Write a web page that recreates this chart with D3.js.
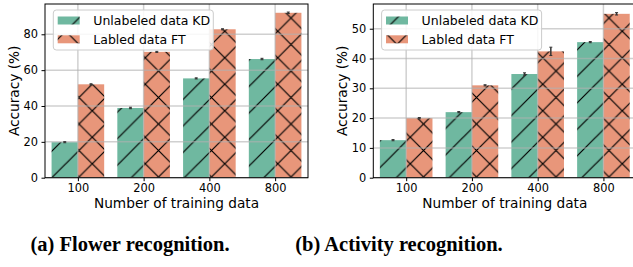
<!DOCTYPE html>
<html><head><meta charset="utf-8">
<script src="https://cdn.jsdelivr.net/npm/d3@7"></script>
<style>body{margin:0;background:#fff} svg{display:block}</style>
</head><body>
<script>
// ---- data ----
const categories = ["100", "200", "400", "800"];
const seriesNames = ["Unlabeled data KD", "Labled data FT"];
const flowerKD = [19.8, 38.9, 55.4, 66.2];
const flowerFT = [52.1, 70.2, 82.8, 92.0];
const flowerKDErr = [0.3, 0.4, 0.3, 0.4];
const flowerFTErr = [0.3, 0.3, 0.3, 0.4];
const activityKD = [12.6, 22.0, 34.8, 45.5];
const activityFT = [20.0, 31.0, 42.4, 55.0];
const activityKDErr = [0.2, 0.2, 0.4, 0.2];
const activityFTErr = [0.2, 0.2, 1.4, 0.4];
const flowerTicks = [0, 20, 40, 60, 80];
const activityTicks = [0, 10, 20, 30, 40, 50];
const captions = ["(a) Flower recognition.", "(b) Activity recognition."];
const xLabel = "Number of training data";
const yLabel = "Accuracy (%)";

// ---- style ----
const W = 633, H = 267;
const GREEN = "#6fb8a0", ORANGE = "#e8967a";
const FONT = "'DejaVu Sans', sans-serif";
const svg = d3.select("body").append("svg").attr("width", W).attr("height", H);

const D = 26.5;
const defs = svg.append("defs");
function makePattern(id, color, cross) {
  const p = defs.append("pattern").attr("id", id).attr("patternUnits", "userSpaceOnUse")
    .attr("width", D).attr("height", D).attr("patternTransform", "translate(12.75,4.75)");
  p.append("rect").attr("width", D).attr("height", D).attr("fill", color);
  let path = `M0,${D}L${D},0M-2,2L2,-2M${D-2},${D+2}L${D+2},${D-2}`;
  if (cross) path += `M0,0L${D},${D}M-2,${D-2}L2,${D+2}M${D-2},-2L${D+2},2`;
  p.append("path").attr("d", path).attr("stroke", "#000").attr("stroke-width", 1.2).attr("fill", "none");
}
makePattern("hG", GREEN, false);
makePattern("hO", ORANGE, true);

const panels = [
  {left: 45, right: 308, top: 4, bottom: 177.7, ymax: 96.9, kd: flowerKD, ft: flowerFT, kdE: flowerKDErr, ftE: flowerFTErr, ticks: flowerTicks, ylabX: 14, cap: captions[0], capX: 130},
  {left: 373.3, right: 636.3, top: 4, bottom: 177.7, ymax: 58.3, kd: activityKD, ft: activityFT, kdE: activityKDErr, ftE: activityFTErr, ticks: activityTicks, ylabX: 342, cap: captions[1], capX: 399}
];

panels.forEach(P => {
  const x = d3.scaleLinear().domain([-0.5, 3.5]).range([P.left, P.right]);
  const y = d3.scaleLinear().domain([0, P.ymax]).range([P.bottom, P.top]);
  const bw = x(0.4) - x(0);
  const g = svg.append("g");
  const series = [
    {vals: P.kd, err: P.kdE, off: -0.2, fill: "url(#hG)"},
    {vals: P.ft, err: P.ftE, off: 0.2, fill: "url(#hO)"}
  ];
  series.forEach(s => {
    g.selectAll(null).data(s.vals).enter().append("rect")
      .attr("x", (d, i) => x(i + s.off) - bw / 2).attr("width", bw)
      .attr("y", d => y(d)).attr("height", d => y(0) - y(d))
      .attr("fill", s.fill);
  });
  // grid (drawn over bars)
  const grid = svg.append("g").attr("stroke", "#b0b0b0").attr("stroke-opacity", 0.6).attr("stroke-width", 1.5);
  P.ticks.forEach(t => grid.append("line").attr("x1", P.left).attr("x2", P.right).attr("y1", y(t)).attr("y2", y(t)));
  categories.forEach((c, i) => grid.append("line").attr("x1", x(i)).attr("x2", x(i)).attr("y1", P.top).attr("y2", P.bottom));
  // error bars
  series.forEach(s => {
    s.vals.forEach((d, i) => {
      const cx = x(i + s.off);
      svg.append("line").attr("x1", cx).attr("x2", cx).attr("y1", y(d - s.err[i])).attr("y2", y(d + s.err[i]))
        .attr("stroke", "#333").attr("stroke-width", 1.5);
      [d - s.err[i], d + s.err[i]].forEach(v => svg.append("line").attr("x1", cx - 1.5).attr("x2", cx + 1.5)
        .attr("y1", y(v)).attr("y2", y(v)).attr("stroke", "#333").attr("stroke-width", 1));
    });
  });
  // spines
  svg.append("rect").attr("x", P.left).attr("y", P.top).attr("width", P.right - P.left).attr("height", P.bottom - P.top)
    .attr("fill", "none").attr("stroke", "#000").attr("stroke-width", 1);
  // axes
  const ya = svg.append("g").attr("transform", `translate(${P.left},0)`)
    .call(d3.axisLeft(y).tickValues(P.ticks).tickSize(3.5).tickPadding(3.5).tickFormat(d3.format("d")));
  const xa = svg.append("g").attr("transform", `translate(0,${P.bottom})`)
    .call(d3.axisBottom(x).tickValues([0, 1, 2, 3]).tickSize(3.5).tickPadding(2.3).tickFormat(i => categories[i]));
  [ya, xa].forEach(a => {
    a.select(".domain").remove();
    a.selectAll("text").attr("font-family", FONT).attr("font-size", 11.4).attr("fill", "#000");
    a.selectAll("line").attr("stroke", "#000").attr("stroke-width", 1);
  });
  svg.append("text").attr("x", (P.left + P.right) / 2).attr("y", 208).attr("text-anchor", "middle")
    .attr("font-family", FONT).attr("font-size", 13.7).text(xLabel);
  svg.append("text").attr("transform", `translate(${P.ylabX},${(P.top + P.bottom) / 2}) rotate(-90)`)
    .attr("text-anchor", "middle").attr("dy", "0.35em").attr("font-family", FONT).attr("font-size", 13.7).text(yLabel);
  // legend
  const lx = P.left + 8.3, ly = 10;
  const lg = svg.append("g");
  lg.append("rect").attr("x", lx).attr("y", ly).attr("width", 160).attr("height", 40).attr("rx", 3)
    .attr("fill", "#fff").attr("fill-opacity", 0.85).attr("stroke", "#ccc").attr("stroke-width", 1);
  [["url(#hG)", seriesNames[0], 20.5], ["url(#hO)", seriesNames[1], 39.3]].forEach(([f, t, cy]) => {
    lg.append("rect").attr("x", lx + 4.4).attr("y", cy - 4).attr("width", 22).attr("height", 8).attr("fill", f);
    lg.append("text").attr("x", lx + 40).attr("y", cy).attr("dy", "0.35em").attr("font-family", FONT)
      .attr("font-size", 12.5).text(t);
  });
  // caption
  svg.append("text").attr("x", P.capX).attr("y", 250.5).attr("text-anchor", "middle")
    .attr("font-family", "'Liberation Serif', serif").attr("font-weight", "bold").attr("font-size", 20.5).text(P.cap);
});
</script>
</body></html>
